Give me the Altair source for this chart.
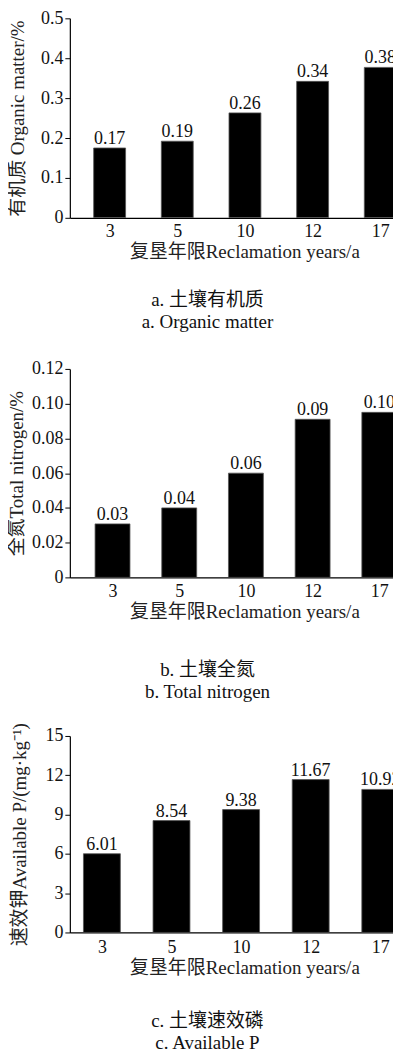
import altair as alt
import pandas as pd

years = ["3", "5", "10", "12", "17"]

om_values = [0.175, 0.192, 0.263, 0.342, 0.377]
om_labels = ["0.17", "0.19", "0.26", "0.34", "0.38"]

tn_values = [0.0308, 0.040, 0.060, 0.091, 0.095]
tn_labels = ["0.03", "0.04", "0.06", "0.09", "0.10"]

ap_values = [6.01, 8.54, 9.38, 11.67, 10.92]
ap_labels = ["6.01", "8.54", "9.38", "11.67", "10.92"]

SERIF = "Liberation Serif, Noto Sans CJK SC"
XTITLE = "复垦年限Reclamation years/a"
PLOT_W = 324
YEAR_EXPR = "[" + ",".join("'" + y + "'" for y in years) + "][datum.value]"


def panel(values, labels, ytitle, ymax, ystep, label_expr, caption, h,
          first_px, step_px, bar_w, tpad, xlpad, cap_offset):
    df = pd.DataFrame({"idx": list(range(len(years))), "year": years,
                       "v": values, "lab": labels})
    n = int(round(ymax / ystep))
    ticks = [round(i * ystep, 4) for i in range(n + 1)]
    x0 = -first_px / step_px
    x1 = x0 + PLOT_W / step_px
    x = alt.X(
        "idx:Q",
        scale=alt.Scale(domain=[x0, x1], nice=False, zero=False),
        axis=alt.Axis(
            title=XTITLE,
            values=list(range(len(years))),
            tickCount=len(years) + 5,
            labelExpr=YEAR_EXPR,
            labelAngle=0,
            labelFlush=False,
            ticks=False,
            grid=False,
            labelPadding=xlpad,
            titlePadding=2,
            titleX=175,
            labelOverlap=False,
        ),
    )
    y = alt.Y(
        "v:Q",
        scale=alt.Scale(domain=[0, ymax], nice=False, zero=True),
        axis=alt.Axis(
            title=ytitle,
            values=ticks,
            tickCount=len(ticks) + 2,
            labelExpr=label_expr,
            tickSize=5,
            labelPadding=2,
            titlePadding=tpad,
            grid=False,
            labelOverlap=False,
        ),
    )
    bars = alt.Chart(df).mark_bar(
        color="#000000", stroke="#555555", strokeWidth=0.8, clip=True, size=bar_w
    ).encode(x=x, y=y)
    text = alt.Chart(df).mark_text(
        baseline="alphabetic", dy=-4, fontSize=18, font=SERIF, color="#111111", clip=True
    ).encode(x="idx:Q", y="v:Q", text="lab:N")
    return (bars + text).properties(
        width=PLOT_W,
        height=h,
        title=alt.TitleParams(
            text=caption,
            orient="bottom",
            anchor="middle",
            dx=-24,
            offset=cap_offset,
            fontSize=19,
            fontWeight="normal",
            font=SERIF,
            lineHeight=22,
            color="#111111",
        ),
    )


pa = panel(om_values, om_labels, "有机质 Organic matter/%", 0.5, 0.1,
           "datum.value == 0 ? '0' : format(datum.value, '.1f')",
           ["a.   土壤有机质", "a.  Organic matter"], 200, 36, 70, 32, 12.5, 5, 29.5)
pb = panel(tn_values, tn_labels, "全氮Total nitrogen/%", 0.12, 0.02,
           "datum.value == 0 ? '0' : format(datum.value, '.2f')",
           ["b.   土壤全氮", "b. Total nitrogen"], 209, 39, 69, 35, 4.5, 5, 39.5)
pc = panel(ap_values, ap_labels, "速效钾Available P/(mg·kg⁻¹)", 15, 3,
           "format(datum.value, 'd')",
           ["c.   土壤速效磷", "c. Available P"], 197, 28, 72, 37, 15.5, 6, 34.5)

top = alt.vconcat(pa, pb, spacing=27.5)
chart = alt.vconcat(top, pc, spacing=20.5).properties(
    padding={"left": 0, "top": 0, "right": 0, "bottom": 0},
).configure_view(stroke=None).configure_axis(
    labelFont=SERIF,
    titleFont=SERIF,
    labelFontSize=18,
    titleFontSize=19,
    titleFontWeight="normal",
    labelColor="#111111",
    titleColor="#222222",
    domainColor="#000000",
    tickColor="#000000",
    domainWidth=1.2,
)

chart.save("out.html", embed_options={"renderer": "svg", "actions": False})
